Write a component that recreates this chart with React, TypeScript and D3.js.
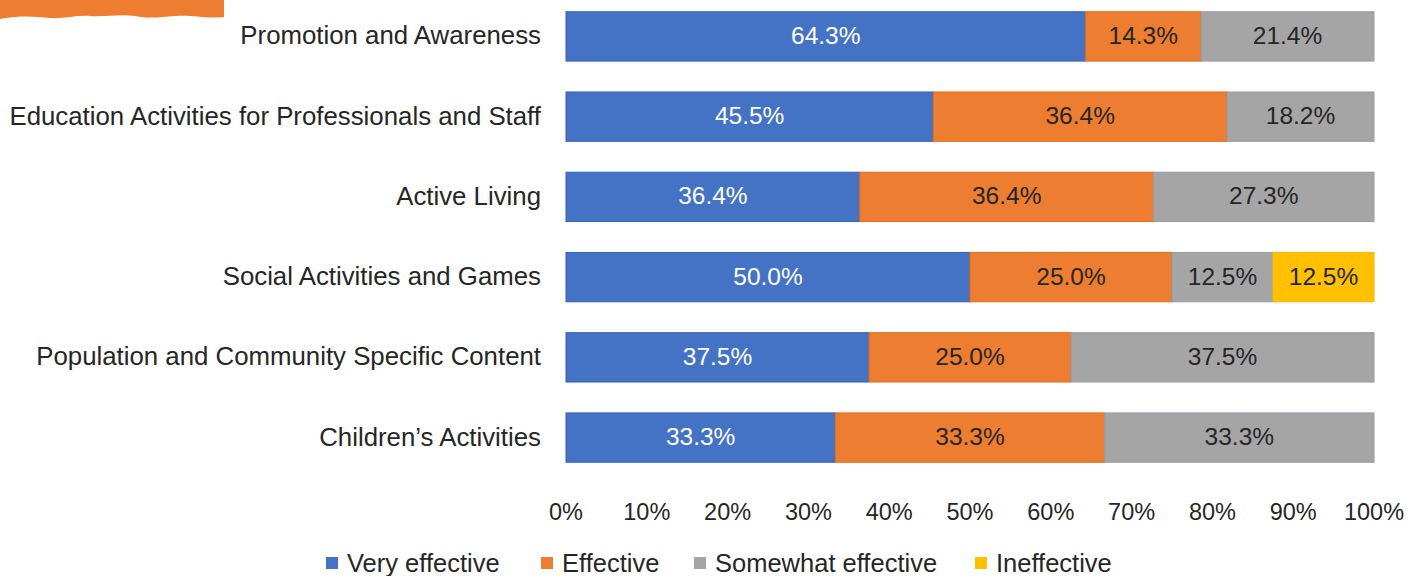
import React, { useMemo } from "react";
import * as d3 from "d3";

const categories = [
  "Promotion and Awareness",
  "Education Activities for Professionals and Staff",
  "Active Living",
  "Social Activities and Games",
  "Population and Community Specific Content",
  "Children’s Activities",
];
const seriesNames = ["Very effective", "Effective", "Somewhat effective", "Ineffective"];
const veryEffective = [64.3, 45.5, 36.4, 50.0, 37.5, 33.3];
const effective = [14.3, 36.4, 36.4, 25.0, 25.0, 33.3];
const somewhatEffective = [21.4, 18.2, 27.3, 12.5, 37.5, 33.3];
const ineffective = [0, 0, 0, 12.5, 0, 0];
const xTicks = [0, 10, 20, 30, 40, 50, 60, 70, 80, 90, 100];

const colors = ["#4472C4", "#ED7D31", "#A5A5A5", "#FFC000"];
const strokes = ["#3461B5", "#E06B1F", "#9A9AA8", "#F5BA00"];
const labelColors = ["#FFFFFF", "#262626", "#262626", "#262626"];
const legendX = [326, 541, 694, 975];

const W = 1410;
const H = 576;
const FONT = "'Liberation Sans', Arial, sans-serif";

export default function App() {
  const x = d3.scaleLinear().domain([0, 100]).range([566, 1374]);
  const y = d3.scaleBand<string>().domain(categories).range([-3.5, 477.5]).paddingInner(0.385).paddingOuter(0.19);

  const rows = useMemo(
    () =>
      categories.map((c, i) => {
        const vals = [veryEffective[i], effective[i], somewhatEffective[i], ineffective[i]];
        const total = d3.sum(vals);
        const norm = vals.map((v) => (v / total) * 100);
        const cum = d3.cumsum(norm);
        return vals.map((v, k) => ({ cat: c, v, x0: cum[k] - norm[k], x1: cum[k], k }));
      }),
    []
  );

  const blob = "M0,0 L224,0 L224,17 C205,19 195,15 175,16 C160,17 150,19 135,16 C120,14 105,17 90,16 C75,15 65,19 50,18 C35,17 25,15 0,19 Z";

  return (
    <svg width={W} height={H} style={{ position: "absolute", left: 0, top: 0, background: "#fff" }} fontFamily={FONT}>
      <rect x={0} y={0} width={W} height={H} fill="#fff" />
      <path d={blob} fill="#ED7D31" />
      {categories.map((c) => (
        <text key={c} x={541} y={(y(c) as number) + y.bandwidth() / 2 - 1} textAnchor="end" dominantBaseline="central" fontSize={25.8} fill="#262626">
          {c}
        </text>
      ))}
      {rows.map((segs, i) =>
        segs
          .filter((s) => s.v > 0)
          .map((s) => {
            const yy = y(s.cat) as number;
            return (
              <g key={`${i}-${s.k}`}>
                <rect x={x(s.x0)} y={yy} width={x(s.x1) - x(s.x0)} height={y.bandwidth()} fill={colors[s.k]} stroke={strokes[s.k]} strokeWidth={1} />
                <text x={(x(s.x0) + x(s.x1)) / 2} y={yy + y.bandwidth() / 2 - 1} textAnchor="middle" dominantBaseline="central" fontSize={24.5} fill={labelColors[s.k]}>
                  {s.v.toFixed(1)}%
                </text>
              </g>
            );
          })
      )}
      {xTicks.map((t) => (
        <text key={t} x={x(t)} y={512} textAnchor="middle" dominantBaseline="central" fontSize={23.5} fill="#262626">
          {t}%
        </text>
      ))}
      {seriesNames.map((n, k) => (
        <g key={n}>
          <rect x={legendX[k]} y={557} width={12} height={12} fill={colors[k]} />
          <text x={legendX[k] + 21} y={563} dominantBaseline="central" fontSize={25.5} fill="#262626">
            {n}
          </text>
        </g>
      ))}
    </svg>
  );
}
